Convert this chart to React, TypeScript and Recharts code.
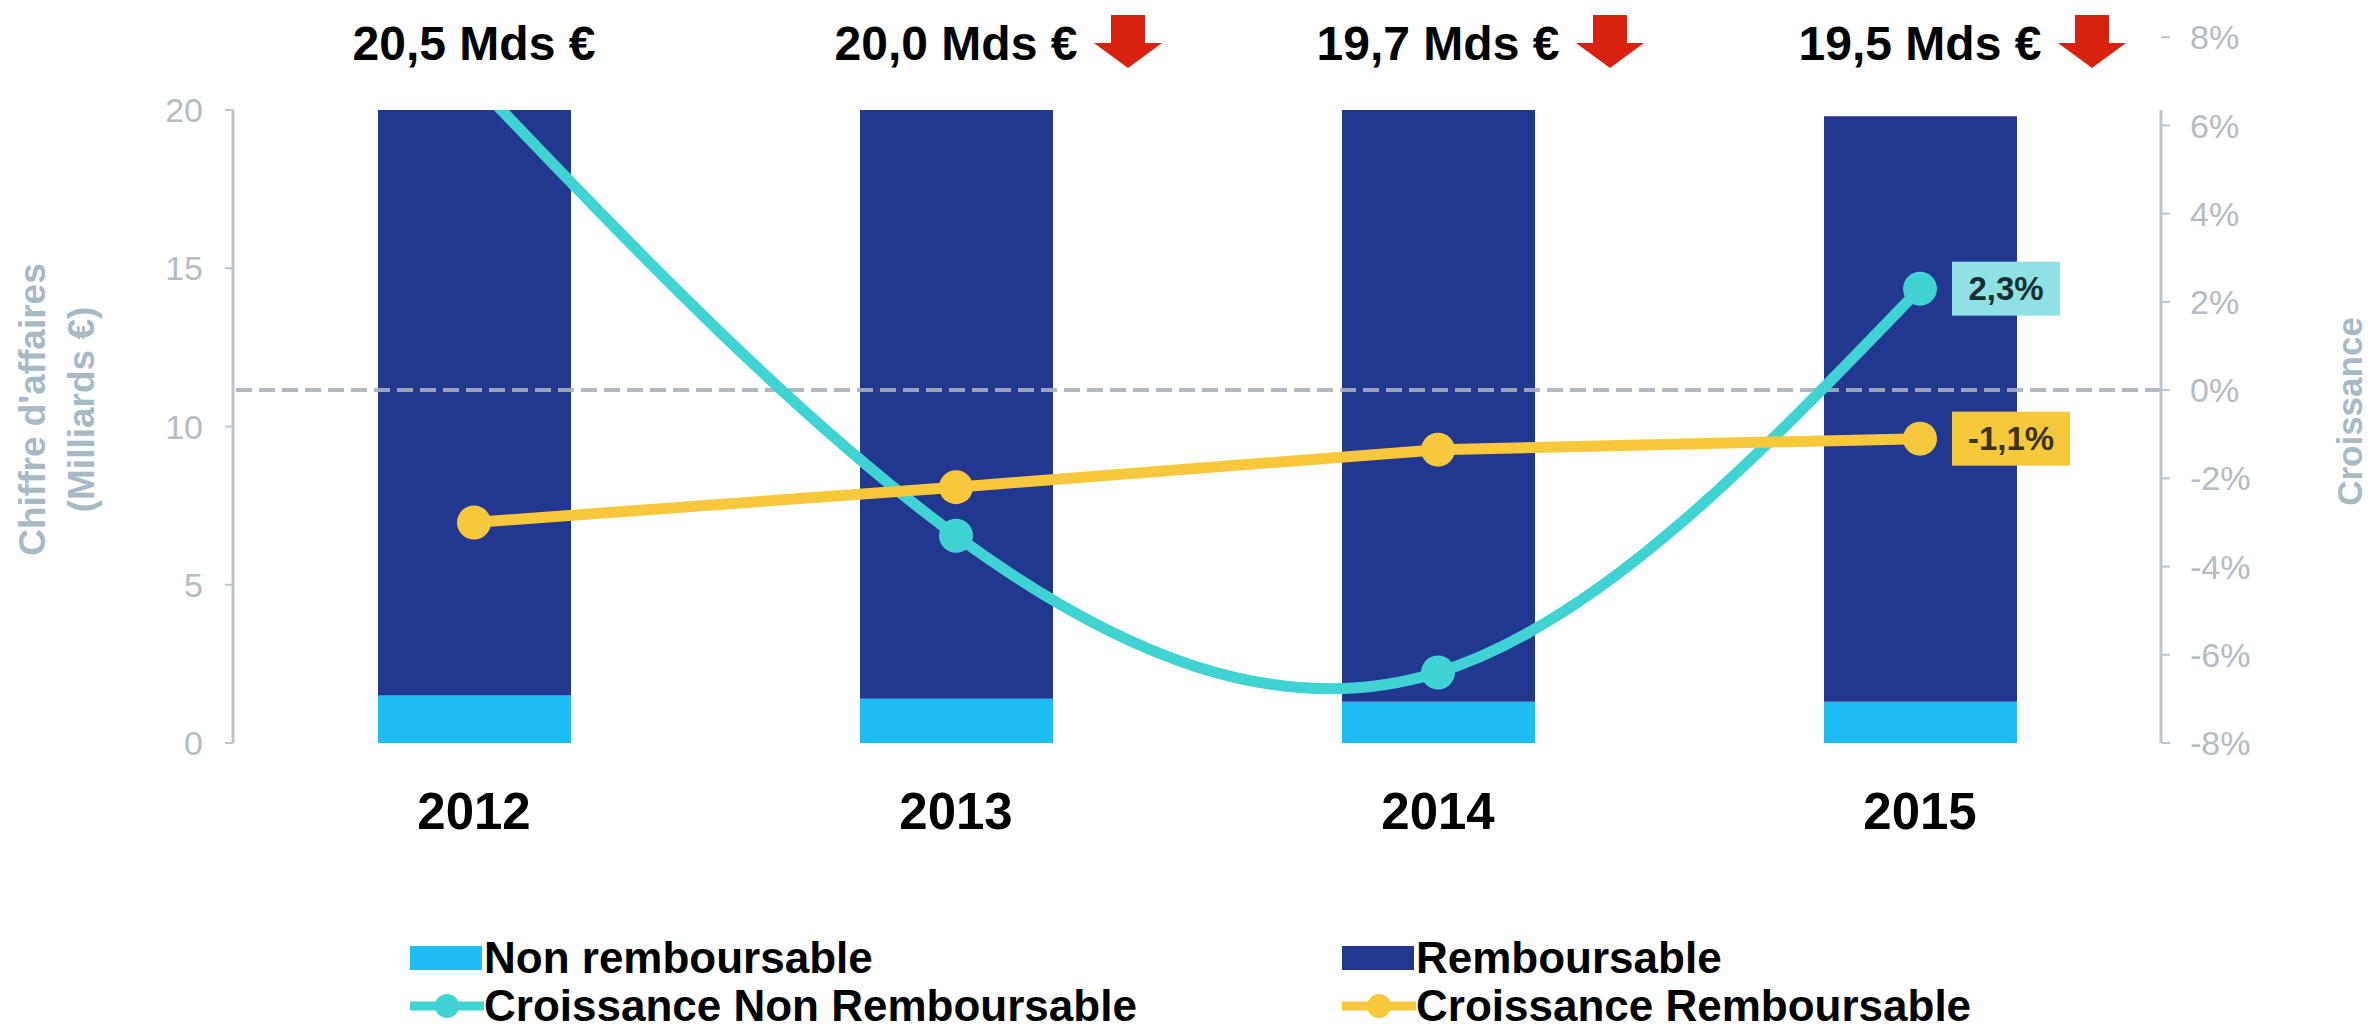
import React from 'react';
import { ComposedChart, Bar, Line, XAxis, YAxis, ReferenceLine, Legend, LabelList } from 'recharts';

const years = ['2012', '2013', '2014', '2015'];
const nonRemboursable = [1.5, 1.4, 1.3, 1.3];
const remboursable = [19.0, 18.6, 18.7, 18.5];
const croissanceNonRemb = [7.0, -3.3, -6.4, 2.3];
const croissanceRemb = [-3.0, -2.2, -1.35, -1.1];
const totalLabels = ['20,5 Mds €', '20,0 Mds €', '19,7 Mds €', '19,5 Mds €'];
const enBaisse = [false, true, true, true];
const leftTicks = [0, 5, 10, 15, 20];
const rightTicks = [-8, -6, -4, -2, 0, 2, 4, 6, 8];

const data = years.map((y, i) => ({
  year: y,
  nonRemb: nonRemboursable[i],
  remb: remboursable[i],
  cNonRemb: croissanceNonRemb[i],
  cRemb: croissanceRemb[i],
}));

const FONT = '"Liberation Sans", Arial, sans-serif';
const DARK_BLUE = '#22378f';
const LIGHT_BLUE = '#1fbdf6';
const CYAN = '#40d3d3';
const YELLOW = '#f7c83b';
const AXIS = '#bac5cd';
const TICK = '#b3bbc3';
const TITLE = '#a8b9c6';

const pct = (v: number) => v.toFixed(1).replace('.', ',') + '%';

const TopTick = (props: any) => {
  const { x, y, payload } = props;
  const i = payload.index;
  return (
    <g>
      <text x={x} y={y} textAnchor="middle" fontFamily={FONT} fontWeight="bold" fontSize={48} fill="#000">
        {totalLabels[i]}
      </text>
      {enBaisse[i] && (
        <polygon
          points={`${x + 155},${y - 45} ${x + 189},${y - 45} ${x + 189},${y - 17} ${x + 206},${y - 17} ${x + 172},${y + 8} ${x + 138},${y - 17} ${x + 155},${y - 17}`}
          fill="#d8210f"
        />
      )}
    </g>
  );
};

const BottomTick = (props: any) => {
  const { x, y, payload } = props;
  return (
    <text x={x} y={y} dy="0.71em" textAnchor="middle" fontFamily={FONT} fontWeight="bold" fontSize={51} fill="#000">
      {payload.value}
    </text>
  );
};

const LeftTitle = (props: any) => {
  const vb = props.viewBox || { x: 0, y: 110, width: 233, height: 633 };
  const cy = vb.y + vb.height / 2 - 17;
  return (
    <g fontFamily={FONT} fontWeight="bold" fontSize={37} fill={TITLE}>
      <text x={vb.x + 32} y={cy} textAnchor="middle" dominantBaseline="central" transform={`rotate(-90, ${vb.x + 32}, ${cy})`}>
        Chiffre d'affaires
      </text>
      <text x={vb.x + 81} y={cy} textAnchor="middle" dominantBaseline="central" transform={`rotate(-90, ${vb.x + 81}, ${cy})`}>
        (Milliards €)
      </text>
    </g>
  );
};

const RightTitle = (props: any) => {
  const vb = props.viewBox || { x: 2161, y: 110, width: 212, height: 633 };
  const cx = vb.x + 188;
  const cy = vb.y + vb.height / 2 - 15;
  return (
    <text x={cx} y={cy} textAnchor="middle" dominantBaseline="central" transform={`rotate(-90, ${cx}, ${cy})`}
      fontFamily={FONT} fontWeight="bold" fontSize={35} fill={TITLE}>
      Croissance
    </text>
  );
};

const makeTag = (bg: string, color: string, w: number) => (props: any) => {
  const { x, y, index, value } = props;
  if (index !== years.length - 1) return null;
  return (
    <g>
      <rect x={x + 32} y={y - 27} width={w} height={54} fill={bg} />
      <text x={x + 32 + w / 2} y={y} textAnchor="middle" dominantBaseline="central" fontFamily={FONT}
        fontWeight="bold" fontSize={33} fill={color}>
        {pct(value)}
      </text>
    </g>
  );
};

const legendItems = [
  { label: 'Non remboursable', color: LIGHT_BLUE, kind: 'rect' },
  { label: 'Remboursable', color: DARK_BLUE, kind: 'rect' },
  { label: 'Croissance Non Remboursable', color: CYAN, kind: 'line' },
  { label: 'Croissance Remboursable', color: YELLOW, kind: 'line' },
];

const CustomLegend = () => (
  <div style={{ height: 110, width: 2373, boxSizing: 'border-box', paddingLeft: 410, paddingTop: 13, fontFamily: FONT }}>
    <div style={{ display: 'grid', gridTemplateColumns: '932px 900px', gridAutoRows: '48px' }}>
      {legendItems.map((it) => (
        <div key={it.label} style={{ display: 'flex', alignItems: 'center', height: 48 }}>
          <svg width={74} height={30} style={{ flex: 'none' }}>
            {it.kind === 'rect' ? (
              <rect x={0} y={3} width={72} height={24} fill={it.color} />
            ) : (
              <g>
                <line x1={0} y1={15} x2={74} y2={15} stroke={it.color} strokeWidth={9} />
                <circle cx={37} cy={15} r={12} fill={it.color} />
              </g>
            )}
          </svg>
          <span style={{ fontSize: 44, fontWeight: 'bold', color: '#000', lineHeight: '48px', whiteSpace: 'nowrap' }}>
            {it.label}
          </span>
        </div>
      ))}
    </div>
  </div>
);

export default function App() {
  return (
    <div>
      <style>{`body{margin:0;background:#fff}`}</style>
      <ComposedChart width={2373} height={1031} data={data} margin={{ top: 0, right: 0, bottom: 0, left: 0 }}>
        <XAxis xAxisId="top" orientation="top" dataKey="year" height={110} axisLine={false} tickLine={false}
          tickSize={0} tickMargin={50} tick={<TopTick />} interval={0} />
        <XAxis dataKey="year" height={178} axisLine={false} tickLine={false} tickSize={0} tickMargin={50}
          tick={<BottomTick />} interval={0} />
        <YAxis yAxisId="left" width={233} domain={[0, 20]} ticks={leftTicks} allowDataOverflow interval={0}
          axisLine={{ stroke: AXIS, strokeWidth: 3 }} tickLine={{ stroke: AXIS, strokeWidth: 2 }} tickSize={8}
          tickMargin={22} tick={{ fill: TICK, fontSize: 34, fontFamily: FONT }} label={LeftTitle} />
        <YAxis yAxisId="right" orientation="right" width={212} domain={[-8, 6.35]} ticks={rightTicks}
          allowDataOverflow interval={0} tickFormatter={(v: number) => `${v}%`}
          axisLine={{ stroke: AXIS, strokeWidth: 3 }} tickLine={{ stroke: AXIS, strokeWidth: 2 }} tickSize={9}
          tickMargin={20} tick={{ fill: TICK, fontSize: 34, fontFamily: FONT }} label={RightTitle} />
        <Bar yAxisId="left" dataKey="nonRemb" stackId="ca" fill={LIGHT_BLUE} barSize={193} isAnimationActive={false} name="Non remboursable" />
        <Bar yAxisId="left" dataKey="remb" stackId="ca" fill={DARK_BLUE} barSize={193} isAnimationActive={false} name="Remboursable" />
        <ReferenceLine yAxisId="right" y={0} stroke="#aab1bc" strokeOpacity={0.9} strokeWidth={4} strokeDasharray="16 7" />
        <Line yAxisId="right" type="natural" dataKey="cNonRemb" stroke={CYAN} strokeWidth={11}
          dot={{ r: 17, fill: CYAN, stroke: CYAN, strokeWidth: 0 }} isAnimationActive={false} name="Croissance Non Remboursable">
          <LabelList dataKey="cNonRemb" content={makeTag('#8fe1e4', '#14302f', 108)} />
        </Line>
        <Line yAxisId="right" type="linear" dataKey="cRemb" stroke={YELLOW} strokeWidth={11}
          dot={{ r: 17, fill: YELLOW, stroke: YELLOW, strokeWidth: 0 }} isAnimationActive={false} name="Croissance Remboursable">
          <LabelList dataKey="cRemb" content={makeTag('#f6c93c', '#3d3316', 118)} />
        </Line>
        <Legend verticalAlign="bottom" content={CustomLegend} />
      </ComposedChart>
    </div>
  );
}
